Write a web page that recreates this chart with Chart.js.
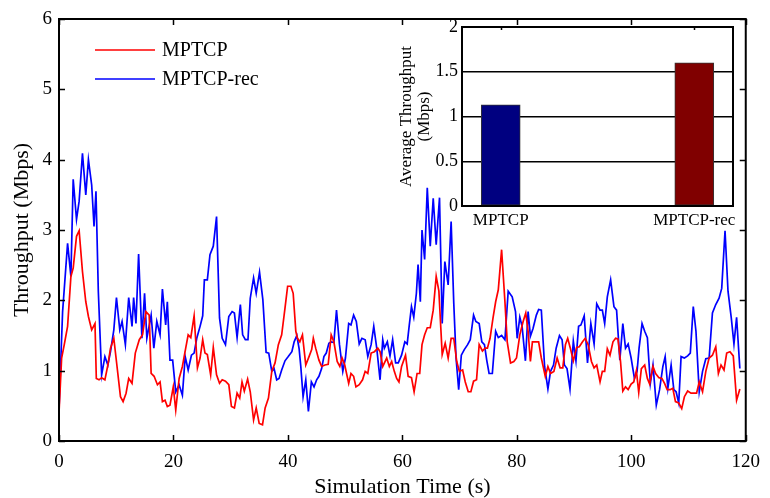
<!DOCTYPE html>
<html>
<head>
<meta charset="utf-8">
<script src="https://cdn.jsdelivr.net/npm/chart.js@4/dist/chart.umd.min.js"></script>
<style>
html,body{margin:0;padding:0;background:#fff;}
#wrap{position:relative;width:770px;height:498px;}
#main{position:absolute;left:0;top:0;}
#inset{position:absolute;left:380px;top:0;}
</style>
</head>
<body>
<div id="wrap">
<canvas id="main" width="770" height="498"></canvas>
<canvas id="inset" width="380" height="240"></canvas>
</div>
<script>
// ---------- data ----------
const xTicks = [0, 20, 40, 60, 80, 100, 120];
const yTicks = [0, 1, 2, 3, 4, 5, 6];

const mptcpTime = [0,0.46,0.92,1.5,2.08,2.48,3.06,3.52,4.1,4.68,5.14,5.71,6.29,6.52,7.0,7.45,8.02,8.54,9.0,9.58,10.04,10.74,11.2,11.72,12.18,12.76,13.33,14.03,14.6,15.18,15.76,16.1,16.62,17.2,17.66,18.07,18.53,18.93,19.39,19.97,20.4,20.99,21.56,22.14,22.57,23.03,23.61,24.19,24.65,25.11,25.51,25.92,26.5,26.96,27.53,28.05,28.52,29.09,29.67,30.13,30.65,31.12,31.58,31.98,32.38,32.96,33.42,34.0,34.46,34.98,35.56,36.02,36.6,37.18,37.75,38.33,38.91,39.49,39.95,40.52,40.92,41.38,41.67,42.08,42.54,43.12,43.69,44.15,44.44,44.85,45.42,45.89,46.47,47.04,47.56,48.03,48.61,49.07,49.47,49.93,50.62,51.02,51.48,51.89,52.46,53.04,53.5,53.96,54.54,55.12,55.7,56.1,56.57,56.97,57.26,57.72,58.13,58.59,59.0,59.4,59.86,60.55,61.01,61.59,62.05,62.57,63.03,63.43,63.89,64.35,64.87,65.39,65.91,66.38,66.96,67.48,68.0,68.52,68.98,69.5,69.96,70.53,70.99,71.51,71.97,72.44,72.96,73.42,73.99,74.45,74.86,75.32,75.84,76.3,76.76,77.34,77.92,78.32,78.9,79.48,79.94,80.52,81.1,81.56,81.97,82.37,82.72,83.24,83.81,84.28,84.97,85.43,85.89,86.47,87.04,87.56,88.03,88.49,88.89,89.35,89.87,90.45,90.91,91.48,91.95,92.46,93.04,93.5,93.96,94.54,94.94,95.35,95.81,96.28,96.8,97.26,97.66,98.12,98.52,98.99,99.45,99.97,100.43,100.89,101.3,101.76,102.34,102.81,103.21,103.79,104.25,104.83,105.35,105.81,106.27,106.79,107.25,107.72,108.29,108.81,109.28,109.85,110.43,111.0,111.41,111.87,112.45,113.02,113.6,114.18,114.76,115.22,115.68,116.2,116.67,117.24,117.82,118.4,118.97];
const mptcpValue = [0.40,1.18,1.37,1.63,2.34,2.46,2.91,2.99,2.41,1.98,1.77,1.58,1.67,0.89,0.87,0.90,0.87,1.08,1.32,1.46,1.13,0.63,0.56,0.68,0.89,0.82,1.25,1.44,1.51,1.84,1.79,0.96,0.92,0.80,0.84,0.56,0.58,0.49,0.51,0.77,0.44,0.89,1.06,1.32,1.51,1.47,1.78,1.04,1.18,1.44,1.25,1.23,0.94,1.33,0.94,0.82,0.87,0.85,0.80,0.49,0.47,0.68,0.61,0.84,0.71,0.88,0.70,0.30,0.47,0.25,0.23,0.47,0.61,0.99,1.11,1.37,1.51,1.89,2.20,2.20,2.10,1.56,1.46,1.41,1.51,1.08,1.20,1.30,1.46,1.32,1.15,1.06,1.08,1.09,1.51,1.41,1.13,1.06,1.18,1.08,0.82,0.96,0.92,0.77,0.80,0.87,0.99,0.96,1.25,1.27,1.32,1.27,1.06,1.13,1.18,1.06,1.13,0.99,0.89,0.84,1.06,1.22,0.92,0.90,0.70,0.96,0.96,1.37,1.51,1.61,1.61,1.86,2.34,2.13,1.23,1.39,1.18,1.46,1.46,1.13,0.99,1.01,0.84,0.70,0.70,0.85,0.87,1.37,1.28,1.32,1.32,1.46,1.75,1.98,2.15,2.72,1.98,1.41,1.11,1.13,1.18,1.51,1.70,1.82,1.56,1.13,1.41,1.41,1.41,1.18,0.92,1.06,0.96,0.99,1.18,1.04,1.04,1.37,1.46,1.32,1.14,1.33,1.34,1.41,1.46,1.37,1.13,1.04,1.08,0.84,0.99,0.99,1.31,1.22,1.41,1.46,1.45,1.13,0.71,0.77,0.73,0.81,0.84,1.00,0.69,1.03,1.08,0.89,0.81,1.06,0.96,0.90,0.89,0.82,0.73,0.73,0.75,0.56,0.54,0.46,0.63,0.71,0.68,0.68,0.68,0.84,0.70,0.99,1.18,1.22,1.34,0.96,1.08,1.01,1.25,1.27,1.21,0.58,0.74];

const recTime = [0,0.63,1.5,2.08,2.48,3.06,3.52,4.1,4.68,5.14,5.71,6.12,6.46,6.87,7.45,8.02,8.54,9.0,9.58,10.04,10.62,11.02,11.6,12.18,12.76,13.04,13.45,13.91,14.49,14.95,15.35,16.1,16.57,17.09,17.66,18.07,18.64,18.93,19.39,19.86,20.4,20.99,21.56,22.05,22.57,23.14,23.61,24.07,24.65,25.11,25.4,25.92,26.38,26.96,27.53,28.05,28.52,29.09,29.67,30.25,30.65,31.12,31.69,32.09,32.56,33.02,33.42,34.0,34.46,35.04,35.62,36.19,36.65,37.18,37.58,38.04,38.45,38.91,39.49,40.06,40.69,41.09,41.56,41.96,42.25,42.65,43.12,43.58,44.1,44.56,45.02,45.42,45.89,46.29,46.7,47.16,47.56,48.03,48.49,49.01,49.59,50.05,50.62,51.02,51.48,51.95,52.46,52.93,53.5,53.96,54.54,55.0,55.52,56.1,56.57,56.85,57.37,57.84,58.3,58.82,59.28,59.86,60.43,60.84,61.18,61.59,61.99,62.45,62.74,63.14,63.43,63.89,64.35,64.87,65.39,65.91,66.49,66.96,67.42,68.0,68.52,68.98,69.38,69.84,70.3,70.82,71.4,71.86,72.44,72.84,73.42,73.88,74.34,74.74,75.15,75.72,76.3,76.76,77.34,77.92,78.49,79.19,79.77,80.06,80.52,80.92,81.5,81.97,82.37,82.83,83.41,83.81,84.28,84.85,85.43,85.89,86.41,86.87,87.45,87.91,88.31,88.77,89.29,89.87,90.33,90.79,91.2,91.77,92.35,92.93,93.5,93.96,94.54,94.94,95.35,95.81,96.39,96.97,97.43,98.0,98.52,98.99,99.45,99.97,100.55,101.01,101.36,101.88,102.34,102.81,103.33,103.79,104.37,104.94,105.52,105.92,106.39,106.96,107.43,107.83,108.29,108.7,109.28,109.85,110.31,110.83,111.3,111.87,112.45,113.02,113.6,114.18,114.76,115.34,115.8,116.38,116.9,117.47,117.94,118.4,118.97];
const recValue = [0.45,1.84,2.81,2.34,3.72,3.15,3.41,4.09,3.50,4.00,3.64,3.05,3.55,2.13,0.94,1.20,1.08,1.27,1.58,2.04,1.58,1.70,1.37,2.04,1.63,2.04,1.67,2.66,1.46,2.10,1.46,1.79,1.32,1.70,1.51,2.16,1.65,1.98,1.15,1.15,0.70,0.80,0.65,1.20,1.01,1.22,1.25,1.46,1.63,1.78,2.29,2.29,2.65,2.77,3.19,1.75,1.46,1.37,1.77,1.84,1.82,1.47,1.94,1.51,1.44,1.44,2.03,2.32,2.10,2.40,2.01,1.26,1.25,0.99,1.03,0.87,0.89,1.01,1.14,1.20,1.27,1.41,1.50,1.31,1.06,0.63,0.87,0.42,0.84,0.77,0.87,0.92,1.03,1.20,1.25,1.39,1.41,1.40,1.86,1.37,0.99,1.18,1.67,1.65,1.79,1.70,1.38,1.46,1.44,1.20,1.37,1.63,1.32,0.87,1.44,1.32,1.41,1.21,1.44,1.11,1.11,1.22,1.41,1.38,1.63,1.91,1.76,2.10,2.51,1.98,3.00,2.58,3.60,2.77,3.45,2.79,3.46,1.67,2.55,2.22,3.12,1.96,1.18,0.73,1.22,1.30,1.37,1.44,1.79,1.70,1.67,1.41,1.37,1.15,0.96,0.96,1.56,1.47,1.50,1.44,2.13,2.05,1.84,1.46,1.76,1.63,1.14,1.84,1.49,1.60,1.79,1.87,1.86,1.06,0.74,0.99,1.08,1.32,1.50,1.44,1.08,1.03,0.74,1.42,1.14,1.63,1.65,1.78,1.11,1.67,1.38,1.95,1.86,1.86,1.67,2.05,2.29,1.91,1.86,1.15,1.67,1.32,1.38,1.18,0.89,0.99,1.32,1.67,1.56,1.47,0.82,1.08,0.51,0.73,1.06,1.20,0.75,1.08,0.73,0.70,0.54,1.20,1.18,1.21,1.25,1.91,1.56,0.70,0.99,1.17,1.18,1.82,1.94,2.03,2.17,2.99,2.13,1.75,1.38,1.76,1.03];

const barLabels = ['MPTCP', 'MPTCP-rec'];
const barPositions = [1, 2];
const barValues = [1.13, 1.6];
const barColors = ['#000080', '#800000'];
const insetTicks = [0, 0.5, 1, 1.5, 2];

// ---------- styling ----------
const SERIF = "'Liberation Serif', 'Times New Roman', serif";
Chart.defaults.font.family = SERIF;
Chart.defaults.color = '#000';

function pts(t, v) { return t.map((x, i) => ({ x: x, y: v[i] })); }

// inward ticks + box + legend for the main axes
const mainDecor = {
  id: 'mainDecor',
  afterDraw(chart) {
    const ctx = chart.ctx, a = chart.chartArea;
    const xs = chart.scales.x, ys = chart.scales.y;
    ctx.save();
    ctx.strokeStyle = '#000';
    ctx.lineWidth = 1.5;
    const L = 6;
    ctx.beginPath();
    xTicks.forEach(v => {
      const px = Math.round(xs.getPixelForValue(v)) + 0.5;
      ctx.moveTo(px, a.bottom); ctx.lineTo(px, a.bottom - L);
      ctx.moveTo(px, a.top); ctx.lineTo(px, a.top + L);
    });
    yTicks.forEach(v => {
      const py = Math.round(ys.getPixelForValue(v)) + 0.5;
      ctx.moveTo(a.left, py); ctx.lineTo(a.left + L, py);
      ctx.moveTo(a.right, py); ctx.lineTo(a.right - L, py);
    });
    ctx.stroke();
    ctx.lineWidth = 2;
    ctx.strokeRect(a.left, a.top, a.right - a.left, a.bottom - a.top);
    // legend
    const ds = chart.data.datasets;
    const rows = [50, 79];
    ctx.font = '20px ' + SERIF;
    ctx.textBaseline = 'middle';
    ctx.textAlign = 'left';
    ds.forEach((d, i) => {
      ctx.strokeStyle = d.borderColor;
      ctx.lineWidth = 1.7;
      ctx.beginPath();
      ctx.moveTo(95, rows[i]); ctx.lineTo(155, rows[i]);
      ctx.stroke();
      ctx.fillStyle = '#000';
      ctx.fillText(d.label, 162, rows[i] + 1);
    });
    ctx.restore();
  }
};

new Chart(document.getElementById('main'), {
  type: 'line',
  data: {
    datasets: [
      { label: 'MPTCP', data: pts(mptcpTime, mptcpValue), borderColor: '#ff0000', borderWidth: 1.7, pointRadius: 0, tension: 0, fill: false },
      { label: 'MPTCP-rec', data: pts(recTime, recValue), borderColor: '#0000ff', borderWidth: 1.7, pointRadius: 0, tension: 0, fill: false }
    ]
  },
  options: {
    responsive: false,
    animation: false,
    devicePixelRatio: 1,
    layout: { padding: { top: 19, right: 17, left: 0, bottom: 0 } },
    plugins: { legend: { display: false }, tooltip: { enabled: false } },
    scales: {
      x: {
        type: 'linear', min: 0, max: 120,
        afterBuildTicks: s => { s.ticks = xTicks.map(v => ({ value: v })); },
        afterFit: s => { s.height = 57; },
        grid: { display: false, drawTicks: false },
        border: { display: false },
        ticks: { font: { size: 19 }, padding: 10, maxRotation: 0 },
        title: { display: true, text: 'Simulation Time (s)', font: { size: 22, lineHeight: 1 }, padding: { top: 0, bottom: 0 } }
      },
      y: {
        min: 0, max: 6,
        afterBuildTicks: s => { s.ticks = yTicks.map(v => ({ value: v })); },
        afterFit: s => { s.width = 59; },
        grid: { display: false, drawTicks: false },
        border: { display: false },
        ticks: { font: { size: 19 }, padding: 7 },
        title: { display: true, text: 'Throughput (Mbps)', font: { size: 22, lineHeight: 1 }, padding: { top: 11, bottom: 0 } }
      }
    }
  },
  plugins: [mainDecor]
});

// ---------- inset bar chart ----------
const insetDecor = {
  id: 'insetDecor',
  beforeDraw(chart) {
    const ctx = chart.ctx, a = chart.chartArea;
    ctx.save();
    ctx.fillStyle = '#fff';
    ctx.fillRect(a.left, a.top, a.right - a.left, a.bottom - a.top);
    ctx.restore();
  },
  afterDraw(chart) {
    const ctx = chart.ctx, a = chart.chartArea, xs = chart.scales.x;
    ctx.save();
    ctx.strokeStyle = '#000';
    ctx.lineWidth = 1.5;
    ctx.beginPath();
    barPositions.forEach(v => {
      const px = Math.round(xs.getPixelForValue(v)) + 0.5;
      ctx.moveTo(px, a.top); ctx.lineTo(px, a.top + 3);
    });
    ctx.stroke();
    ctx.lineWidth = 2;
    ctx.strokeRect(a.left, a.top, a.right - a.left, a.bottom - a.top);
    ctx.restore();
  }
};

new Chart(document.getElementById('inset'), {
  type: 'bar',
  data: {
    datasets: [{
      label: 'Average Throughput',
      data: barPositions.map((p, i) => ({ x: p, y: barValues[i] })),
      backgroundColor: barColors,
      borderColor: '#333333',
      borderWidth: 1,
      borderSkipped: false,
      barThickness: 39
    }]
  },
  options: {
    responsive: false,
    animation: false,
    devicePixelRatio: 1,
    layout: { padding: { top: 27, right: 27, left: 0, bottom: 0 } },
    plugins: { legend: { display: false }, tooltip: { enabled: false } },
    scales: {
      x: {
        type: 'linear', min: 0.8, max: 2.2, offset: false,
        afterBuildTicks: s => { s.ticks = barPositions.map(v => ({ value: v })); },
        afterFit: s => { s.height = 34; },
        grid: { display: false, drawTicks: false },
        border: { display: false },
        ticks: { font: { size: 17 }, padding: 4, maxRotation: 0, autoSkip: false,
                 callback: v => barLabels[barPositions.indexOf(v)] }
      },
      y: {
        min: 0, max: 2,
        afterBuildTicks: s => { s.ticks = insetTicks.map(v => ({ value: v })); },
        afterFit: s => { s.width = 82; },
        grid: { color: '#000', lineWidth: 1.5, drawTicks: false },
        border: { display: false },
        ticks: { font: { size: 18 }, padding: 4, callback: v => String(v) },
        title: { display: true, text: ['Average Throughput', '(Mbps)'], font: { size: 17, lineHeight: 1.06 }, padding: { top: 18, bottom: 0 } }
      }
    }
  },
  plugins: [insetDecor]
});
</script>
</body>
</html>
